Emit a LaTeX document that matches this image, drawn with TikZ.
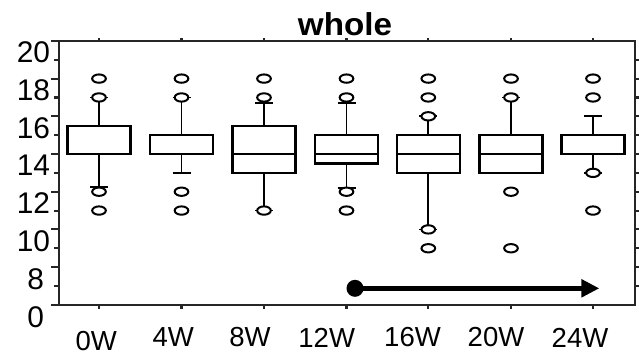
\documentclass[tikz,border=0pt]{standalone}
\usepackage{fontspec}
\setmainfont{Liberation Sans}
\usetikzlibrary{arrows.meta,positioning}
\tikzset{axis/.style={line width=1.8pt,black!85},
  whisk/.style={line width=1.5pt},
  boxln/.style={line width=1.9pt},
  medln/.style={line width=2.5pt},
  outlier/.style={line width=1.7pt,fill=white},
  ylab/.style={font=\fontsize{25.5}{25.5}\selectfont,inner sep=0pt},
  xlab/.style={font=\fontsize{23.5}{23.5}\selectfont,inner sep=0pt},
  title/.style={font=\fontsize{27}{27}\selectfont\bfseries,inner sep=0pt,xscale=1.05},
  dot/.style={circle,fill=black,minimum size=0.51cm,inner sep=0pt},
  flow/.style={line width=4.7pt,-{Triangle[length=0.54cm,width=0.52cm]}},
}
\newcommand{\boxwhisk}[6]{%
    \draw[whisk] (#1,#3) -- (#1,#2) (#1-9,#2) -- (#1+9,#2);
    \draw[whisk] (#1,#5) -- (#1,#6) (#1-9,#6) -- (#1+9,#6);
    \draw[boxln] (#1-31.5,#3) rectangle (#1+31.5,#5);
    \draw[medln] (#1-31.5,#4) -- (#1+31.5,#4);
}
\newcommand{\outl}[2]{%
    \foreach \v in {#2}
        \draw[outlier] (#1,\v) ellipse [x radius=0.205cm, y radius=0.125cm];
}
\begin{document}
\begin{tikzpicture}[x=0.03cm,y=0.5655cm]
    \useasboundingbox (0,3.23) rectangle (639,22.17);
    \draw[axis] (51,20) -- (635,20) -- (635,6) -- (51,6);
    \draw[axis] (59,20) -- (59,6);
    \foreach \v in {8,10,...,18} \draw[axis] (51,\v) -- (59,\v);
    \foreach \v in {7,9,...,19} \draw[axis] (54,\v) -- (59,\v);
    \foreach \v in {7,...,19} \draw[axis] (635,\v) -- (639,\v);
    \foreach \x in {99,181.5,264,346.5,428.3,511,593} {
        \draw[axis] (\x,20) -- (\x,20.17);
        \draw[axis] (\x,6) -- (\x,5.8);
    }
    \foreach \v in {20,18,...,10} \node[ylab] at (33.5,\v-0.62) {\v};
    \node[ylab] at (35.8,7.38) {8};
    \node[ylab] at (35.8,5.35) {0};

    \boxwhisk{99}{12.27}{14}{14}{15.5}{17}
    \boxwhisk{181.5}{13}{14}{14}{15}{17}
    \boxwhisk{264}{11}{13}{14}{15.5}{16.7}
    \boxwhisk{346.5}{12.2}{13.5}{14}{15}{16.7}
    \boxwhisk{428.3}{10}{13}{14}{15}{16}
    \boxwhisk{511}{13}{13}{14}{15}{17}
    \boxwhisk{593}{13}{14}{14}{15}{16}
    \outl{99}{18,17,12,11}
    \outl{181.5}{18,17,12,11}
    \outl{264}{18,17,11}
    \outl{346.5}{18,17,12,11}
    \outl{428.3}{18,17,16,10,9}
    \outl{511}{18,17,12,9}
    \outl{593}{18,17,13,11}

    \node[dot] (start) at (355,6.875) {};
    \coordinate (stop) at (599.3,6.875);
    \draw[flow] (start.center) -- (stop);

    \node[title] (ttl) at (345,20.9) {whole};
    \node[xlab] (w0) at (96.3,4.08) {0W};
    \foreach \p/\t in {173.3/4W,250/8W,326.7/12W,412.5/16W,496/20W,580/24W}
        \node[xlab] at (\p,4.27) {\t};
\end{tikzpicture}
\end{document}
